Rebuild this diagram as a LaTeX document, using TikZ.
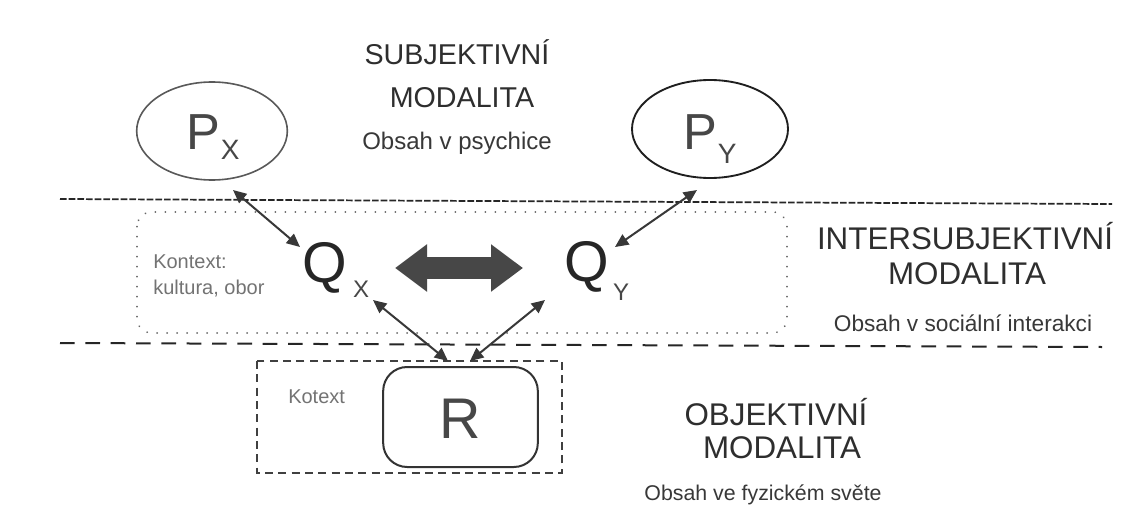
\documentclass[tikz,border=0pt]{standalone}
\usepackage{fontspec}
\setmainfont{Liberation Sans}
\usetikzlibrary{arrows.meta,shapes.geometric}
\begin{document}
\begin{tikzpicture}[x=0.75pt,y=-0.75pt,
  head/.style={font=\fontsize{23.5}{23.5}\selectfont,text=black!82,inner sep=0,anchor=base},
  subt/.style={font=\fontsize{17}{17}\selectfont,text=black!78,inner sep=0,anchor=base},
  ctx/.style={font=\fontsize{15}{15}\selectfont,text=black!55,inner sep=0,anchor=base west},
  bigP/.style={font=\fontsize{38}{38}\selectfont,text=black!72,inner sep=0,anchor=base},
  bigQ/.style={font=\fontsize{43}{43}\selectfont,text=black!85,inner sep=0,anchor=base},
  bigR/.style={font=\fontsize{43}{43}\selectfont,text=black!72,inner sep=0,anchor=base},
  subQ/.style={font=\fontsize{18}{18}\selectfont,text=black!72,inner sep=0,anchor=base},
  thinarrow/.style={draw=black!78,line width=1.5pt,{Triangle[length=10pt,width=9pt]}-{Triangle[length=10pt,width=9pt]}},
  fatarrow/.style={draw=black!72,line width=16.5pt,{Triangle[length=24pt,width=34pt]}-{Triangle[length=24pt,width=34pt]}},
  bandline/.style={draw=black!85,line width=1.3pt,dash pattern=on 5pt off 1.5pt},
  bandlineb/.style={draw=black!85,line width=1.5pt,dash pattern=on 11pt off 8pt},
  ctxbox/.style={draw=black!60,line width=1.4pt,line cap=round,dash pattern=on 0.1pt off 7.4pt,rounded corners=11pt},
  kotbox/.style={draw=black!75,line width=1.1pt,dash pattern=on 6pt off 4pt},
]
\useasboundingbox[fill=white] (0,0) rectangle (1144,524);

% band separators
\coordinate (l1a) at (60,199);
\coordinate (l1b) at (1112,204);
\coordinate (l2a) at (60,343);
\coordinate (l2b) at (1102,347);
\draw[bandline] (l1a) -- (l1b);
\draw[bandlineb] (l2a) -- (l2b);

% context boxes
\draw[ctxbox] (137,212) rectangle (787,333);
\draw[kotbox] (257,361) rectangle (562,473);

% ellipses
\node[ellipse,draw=black!65,line width=1.2pt,minimum width=113pt,minimum height=73.5pt,inner sep=0] (px) at (212,131) {};
\node[ellipse,draw=black!88,line width=1.4pt,minimum width=117pt,minimum height=73.5pt,inner sep=0] (py) at (710,129) {};
\node[bigP] (pxl) at (213,150) {P\kern0.3pt\raisebox{-7.5pt}{\fontsize{21}{21}\selectfont X}};
\node[bigP] (pyl) at (710,150) {P\kern0.3pt\raisebox{-9.75pt}{\fontsize{21}{21}\selectfont Y}};

% R box
\node[draw=black!80,line width=1.5pt,rounded corners=18pt,minimum width=116pt,minimum height=75pt,inner sep=0] (r) at (460.5,417) {};
\node[bigR] (rl) at (460,438) {R};

% Q labels
\node[bigQ] (qx) at (325,282) {Q};
\node[subQ] (qxs) at (361,297) {X};
\node[bigQ] (qy) at (587,281) {Q};
\node[subQ] (qys) at (621,300) {Y};

% arrow end points
\coordinate (pxa) at (233,190);
\coordinate (qxa) at (300,247);
\coordinate (pya) at (697,190);
\coordinate (qya) at (615,247);
\coordinate (qxb) at (373,300);
\coordinate (ra) at (448,361);
\coordinate (qyb) at (545,300);
\coordinate (rb) at (470,361);
\coordinate (fa) at (395,268);
\coordinate (fb) at (523,268);

\draw[thinarrow] (pxa) -- (qxa);
\draw[thinarrow] (pya) -- (qya);
\draw[thinarrow] (qxb) -- (ra);
\draw[thinarrow] (qyb) -- (rb);
\draw[fatarrow] (fa) -- (fb);

% texts
\node[head,font=\fontsize{21.5}{21.5}\selectfont] (s1) at (457,65) {SUBJEKTIVNÍ};
\node[head,font=\fontsize{21.5}{21.5}\selectfont] (s2) at (462,108) {MODALITA};
\node[subt,font=\fontsize{18}{18}\selectfont] (s3) at (457,150) {Obsah v psychice};

\node[head] (i1) at (965,249) {INTERSUBJEKTIVNÍ};
\node[head] (i2) at (967,284) {MODALITA};
\node[subt] (i3) at (963,331) {Obsah v sociální interakci};

\node[head] (o1) at (776,425) {OBJEKTIVNÍ};
\node[head] (o2) at (782,458) {MODALITA};
\node[subt,font=\fontsize{16}{16}\selectfont] (o3) at (763,500) {Obsah ve fyzickém světe};

\node[ctx] (k1) at (153,268) {Kontext:};
\node[ctx] (k2) at (153,294) {kultura, obor};
\node[ctx] (k3) at (288,403) {Kotext};
\end{tikzpicture}
\end{document}
